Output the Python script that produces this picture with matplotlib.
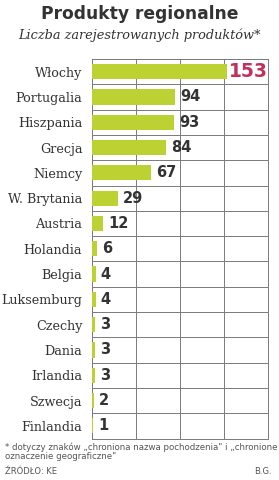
import matplotlib
matplotlib.use("Agg")
import matplotlib.pyplot as plt
from matplotlib.ticker import MultipleLocator

countries = ["Włochy", "Portugalia", "Hiszpania", "Grecja", "Niemcy", "W. Brytania",
             "Austria", "Holandia", "Belgia", "Luksemburg", "Czechy", "Dania",
             "Irlandia", "Szwecja", "Finlandia"]
values = [153, 94, 93, 84, 67, 29, 12, 6, 4, 4, 3, 3, 3, 2, 1]

title = "Produkty regionalne"
subtitle = "Liczba zarejestrowanych produktów*"
footnote = "* dotyczy znaków \u201echroniona nazwa pochodzenia\" i \u201echronione\noznaczenie geograficzne\""
source = "ŹRÓDŁO: KE"
author = "B.G."

BAR = "#bcd232"
HIGHLIGHT = "#c0305a"
TEXT = "#333333"

fig = plt.figure(figsize=(2.79, 4.8), dpi=100)
ax = fig.add_axes([92/279, 1-438.5/480, 176/279, 379.5/480])

n = len(countries)
ys = list(range(n))
ax.barh(ys, values, height=0.6, color=BAR, zorder=3)
ax.set_xlim(0, 200)
ax.set_ylim(n - 0.5, -0.5)

ax.xaxis.set_major_locator(MultipleLocator(50))
ax.yaxis.set_minor_locator(MultipleLocator(1, offset=0.5))
ax.set_yticks(ys)
ax.set_yticklabels(countries, family="DejaVu Serif", fontsize=9.2, color=TEXT)
ax.tick_params(axis="y", which="both", length=0, pad=7)
ax.tick_params(axis="x", which="both", length=0, labelbottom=False)
ax.grid(axis="x", which="major", color="#7a7a7a", lw=0.7, zorder=0)
ax.grid(axis="y", which="minor", color="#7a7a7a", lw=0.7, zorder=0)
for s in ax.spines.values():
    s.set_color("#7a7a7a")
    s.set_linewidth(0.7)

for i, v in enumerate(values):
    if i == 0:
        ax.text(v + 2.5, i, str(v), va="center", ha="left", fontsize=13.5,
                fontweight="bold", color=HIGHLIGHT, zorder=4)
    else:
        ax.text(v + 6, i, str(v), va="center", ha="left", fontsize=10.5,
                fontweight="bold", color=TEXT, zorder=4)

fig.text(0.5, 1-14/480, title, ha="center", va="center", fontsize=12.3,
         fontweight="bold", color=TEXT)
fig.text(0.5, 1-35/480, subtitle, ha="center", va="center", fontsize=9.3,
         family="DejaVu Serif", style="italic", color=TEXT)
fig.text(5/279, 1-442/480, footnote, ha="left", va="top", fontsize=6.2,
         color="#555555", linespacing=1.05)
fig.text(5/279, 1-471/480, source, ha="left", va="center", fontsize=6.0,
         color="#555555")
fig.text(272/279, 1-471/480, author, ha="right", va="center", fontsize=6.0,
         color="#555555")

fig.savefig("out.png", dpi=100)
